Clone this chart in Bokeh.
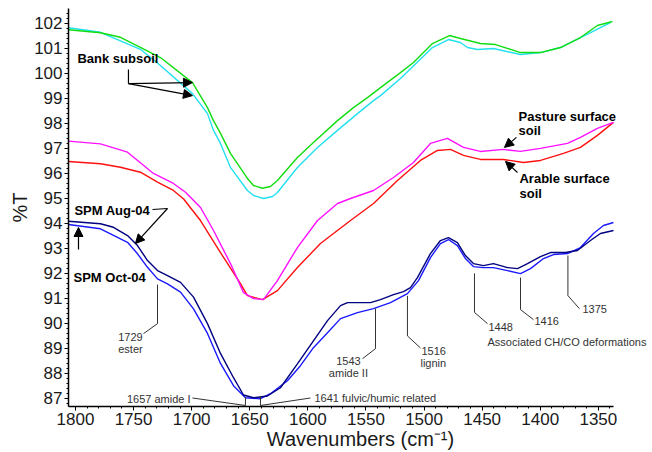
from bokeh.plotting import figure
from bokeh.models import Range1d, SingleIntervalTicker, Label, Arrow, NormalHead
from bokeh.embed import file_html
from bokeh.resources import INLINE

# ---------------- data (wavenumber cm-1, %T) ----------------
bank1_wn = [1806, 1778.5, 1761.3, 1744.1, 1726.9, 1699.3, 1686.4, 1681.2, 1675.2, 1666.6,
            1652.0, 1646.8, 1639.1, 1632.2, 1626.2, 1609.0, 1595.2, 1574.5, 1560.8, 1548.7,
            1537.5, 1520.3, 1509.1, 1492.8, 1478.1, 1468.7, 1451.5, 1438.5, 1417.0, 1399.8,
            1382.6, 1365.4, 1350.8, 1337.9]
bank1_t = [101.73, 101.61, 101.43, 101.03, 100.62, 99.62, 98.62, 98.10, 97.59, 96.79,
           95.79, 95.51, 95.40, 95.47, 95.71, 96.63, 97.23, 98.10, 98.62, 99.02,
           99.42, 100.02, 100.42, 101.18, 101.50, 101.38, 101.18, 101.14, 100.82, 100.82,
           101.02, 101.42, 101.90, 102.06]

bank2_wn = [1806, 1778.5, 1744.1, 1726.9, 1699.3, 1686.4, 1681.2, 1675.2, 1666.6, 1652.0,
            1646.8, 1638.2, 1630.5, 1626.2, 1609.0, 1591.7, 1574.5, 1557.3, 1543.5, 1537.5,
            1520.3, 1492.8, 1479.0, 1468.7, 1462.6, 1454.0, 1440.3, 1417.0, 1399.8, 1382.6,
            1365.4, 1339.6]
bank2_t = [101.81, 101.63, 100.95, 100.30, 99.18, 98.38, 97.71, 97.19, 96.23, 95.31,
           95.11, 94.99, 95.07, 95.23, 96.23, 97.03, 97.71, 98.38, 98.90, 99.10,
           99.78, 101.02, 101.34, 101.22, 101.02, 100.94, 100.98, 100.74, 100.82, 101.02,
           101.42, 102.02]

pasture_wn = [1806, 1778.5, 1755.2, 1732.9, 1715.7, 1705.3, 1692.4, 1681.2, 1666.6, 1655.4,
              1646.8, 1638.2, 1626.2, 1609.0, 1591.7, 1574.5, 1563.3, 1543.5, 1526.3, 1509.1,
              1494.5, 1479.9, 1466.1, 1451.5, 1431.7, 1417.0, 1399.8, 1376.6, 1365.4, 1350.8,
              1337.0]
pasture_t = [97.28, 97.17, 96.84, 95.99, 95.59, 95.24, 94.63, 93.71, 92.39, 91.23,
             90.99, 90.95, 91.71, 93.03, 94.11, 94.79, 94.99, 95.31, 95.83, 96.43,
             97.19, 97.39, 97.03, 96.87, 96.95, 96.87, 96.99, 97.19, 97.43, 97.79,
             98.03]

arable_wn = [1806, 1778.5, 1761.3, 1744.1, 1729.4, 1715.7, 1707.1, 1692.4, 1675.2, 1658.0,
             1652.0, 1639.1, 1626.2, 1609.0, 1589.2, 1563.3, 1543.5, 1522.9, 1503.1, 1488.5,
             1477.3, 1466.1, 1451.5, 1431.7, 1414.4, 1399.8, 1380.0, 1365.4, 1350.8, 1337.0]
arable_t = [96.47, 96.38, 96.24, 96.04, 95.64, 95.31, 94.98, 94.11, 92.83, 91.59,
            91.11, 90.95, 91.31, 92.23, 93.19, 94.11, 94.79, 95.71, 96.51, 96.91,
            96.95, 96.71, 96.55, 96.55, 96.43, 96.51, 96.79, 97.03, 97.51, 98.03]

aug_wn = [1806, 1778.5, 1767.3, 1755.2, 1746.6, 1738.0, 1729.4, 1720.8, 1709.6, 1698.4,
          1686.4, 1675.2, 1664.0, 1655.4, 1646.8, 1634.8, 1623.6, 1609.0, 1595.2, 1583.1,
          1571.9, 1565.9, 1546.1, 1537.5, 1526.3, 1517.7, 1511.7, 1505.7, 1494.5, 1485.9,
          1479.0, 1471.3, 1464.4, 1457.5, 1448.9, 1440.3, 1428.2, 1419.6, 1411.0, 1399.8,
          1391.2, 1378.3, 1368.0, 1356.8, 1348.2, 1337.0]
aug_t = [94.08, 93.98, 93.84, 93.51, 93.11, 92.51, 92.11, 91.91, 91.64, 91.05,
         89.99, 88.80, 87.83, 87.14, 87.03, 87.10, 87.43, 88.38, 89.30, 90.11,
         90.71, 90.83, 90.83, 90.95, 91.15, 91.27, 91.43, 91.83, 92.79, 93.31,
         93.43, 93.23, 92.71, 92.39, 92.31, 92.39, 92.23, 92.19, 92.39, 92.67,
         92.83, 92.83, 92.91, 93.31, 93.59, 93.71]

oct_wn = [1806, 1778.5, 1755.2, 1746.6, 1738.0, 1729.4, 1720.8, 1709.6, 1698.4, 1686.4,
          1675.2, 1664.0, 1653.7, 1640.8, 1632.2, 1617.6, 1606.4, 1595.2, 1583.1, 1571.9,
          1557.3, 1543.5, 1528.9, 1514.3, 1504.8, 1494.5, 1485.9, 1479.0, 1471.3, 1464.4,
          1457.5, 1448.9, 1440.3, 1428.2, 1417.0, 1408.4, 1397.2, 1388.6, 1376.6, 1365.4,
          1354.2, 1345.6, 1337.0]
oct_t = [93.95, 93.78, 93.24, 92.78, 92.24, 91.78, 91.58, 91.25, 90.58, 89.60,
         88.40, 87.51, 87.03, 86.99, 87.19, 87.71, 88.31, 89.03, 89.63, 90.19,
         90.43, 90.59, 90.83, 91.19, 91.71, 92.63, 93.19, 93.35, 93.11, 92.59,
         92.27, 92.23, 92.23, 92.11, 91.99, 92.19, 92.59, 92.75, 92.79, 93.03,
         93.59, 93.91, 94.03]

x_axis_span = (1337, 1806)
x_ticks_interval = 50
y_ticks_interval = 1

FONT = "Liberation Sans"
TXT = "#1a1a1a"

p = figure(width=652, height=452, output_backend="svg", toolbar_location=None,
           x_range=Range1d(1806, 1303.4), y_range=Range1d(86.68, 102.58),
           min_border_left=68, min_border_right=0, min_border_top=8, min_border_bottom=46)
p.outline_line_color = None
p.grid.visible = False
p.background_fill_color = "white"

p.xaxis.ticker = SingleIntervalTicker(interval=x_ticks_interval, num_minor_ticks=5)
p.yaxis.ticker = SingleIntervalTicker(interval=y_ticks_interval, num_minor_ticks=5)
p.xaxis.bounds = x_axis_span
for ax in (p.xaxis, p.yaxis):
    ax.axis_line_color = "black"
    ax.axis_line_width = 1.5
    ax.major_tick_line_color = "black"
    ax.minor_tick_line_color = "black"
    ax.major_tick_out = 4
    ax.major_tick_in = 0
    ax.minor_tick_out = 2
    ax.minor_tick_in = 0
    ax.major_label_text_font = FONT
    ax.major_label_text_font_size = "17px"
    ax.major_label_text_color = TXT
    ax.axis_label_text_font = FONT
    ax.axis_label_text_font_size = "20px"
    ax.axis_label_text_font_style = "normal"
    ax.axis_label_text_color = TXT
p.xaxis.major_label_standoff = 2
p.yaxis.major_label_standoff = 2
p.yaxis.axis_label = "%T"
p.yaxis.axis_label_standoff = 0
p.xaxis.axis_label = "Wavenumbers (cm\u207b\u00b9)"
p.xaxis.axis_label_standoff = 0

# curves
p.line(bank2_wn, bank2_t, line_color="#22e0ee", line_width=1.4)
p.line(bank1_wn, bank1_t, line_color="#11dd11", line_width=1.4)
p.line(arable_wn, arable_t, line_color="#ff1010", line_width=1.4)
p.line(pasture_wn, pasture_t, line_color="#ff10ff", line_width=1.4)
p.line(oct_wn, oct_t, line_color="#1a1aff", line_width=1.4)
p.line(aug_wn, aug_t, line_color="#000080", line_width=1.4)

# bold sample labels
def blabel(x, y, t):
    p.add_layout(Label(x=x, y=y, text=t, text_font=FONT, text_font_size="13px",
                       text_font_style="bold", text_color="black", text_baseline="middle"))

blabel(1798.3, 100.58, "Bank subsoil")
blabel(1418.7, 98.26, "Pasture surface")
blabel(1418.7, 97.70, "soil")
blabel(1417.9, 95.79, "Arable surface")
blabel(1417.9, 95.19, "soil")
blabel(1800.9, 94.51, "SPM Aug-04")
blabel(1801.7, 91.83, "SPM Oct-04")

def arrow(x0, y0, x1, y1):
    p.add_layout(Arrow(end=NormalHead(size=9, fill_color="black", line_color="black"),
                       x_start=x0, y_start=y0, x_end=x1, y_end=y1,
                       line_color="black", line_width=1.2))

p.line([1754.4, 1754.4], [100.14, 99.58], line_color="black", line_width=1.2)
arrow(1754.4, 99.58, 1699.3, 99.62)
arrow(1754.4, 99.58, 1699.3, 99.10)
arrow(1420.5, 97.43, 1430.8, 97.03)
arrow(1419.6, 96.03, 1429.9, 96.47)
p.line([1733.7, 1720.8], [94.55, 94.59], line_color="black", line_width=1.2)
arrow(1720.8, 94.59, 1748.4, 93.19)
arrow(1797.4, 92.95, 1797.4, 93.83)

# band annotations
GRAY = "#333333"
def slabel(x, y, t, align="left"):
    p.add_layout(Label(x=x, y=y, text=t, text_font=FONT, text_font_size="11px",
                       text_color=GRAY, text_baseline="middle", text_align=align))

def leader(xs, ys):
    p.line(xs, ys, line_color=GRAY, line_width=1)

leader([1729.4, 1729.4, 1741.5], [91.55, 89.99, 89.59])
slabel(1752.7, 89.47, "1729", "center")
slabel(1752.7, 88.99, "ester", "center")

leader([1699.3, 1653.7, 1653.7], [87.02, 86.72, 87.06])
slabel(1701.0, 86.99, "1657 amide I", "right")
leader([1597.8, 1640.8, 1640.8], [87.02, 86.72, 87.08])
slabel(1594.3, 87.03, "1641 fulvic/humic related")

leader([1541.8, 1541.8, 1553.0], [90.59, 88.99, 88.59])
slabel(1565.1, 88.51, "1543", "center")
slabel(1565.1, 88.03, "amide II", "center")

leader([1514.3, 1514.3, 1503.1], [91.10, 89.50, 89.02])
slabel(1502.2, 88.91, "1516")
slabel(1503.1, 88.43, "lignin")

leader([1456.6, 1456.6, 1445.4], [92.00, 90.44, 89.99])
slabel(1444.6, 89.87, "1448")
leader([1417.0, 1417.0, 1405.8], [91.83, 90.55, 90.15])
slabel(1405.0, 90.11, "1416")
leader([1376.2, 1376.2, 1366.3], [92.71, 91.11, 90.59])
slabel(1363.7, 90.59, "1375")
slabel(1445.4, 89.25, "Associated CH/CO deformations")

open("out.html", "w").write(file_html(p, INLINE))
